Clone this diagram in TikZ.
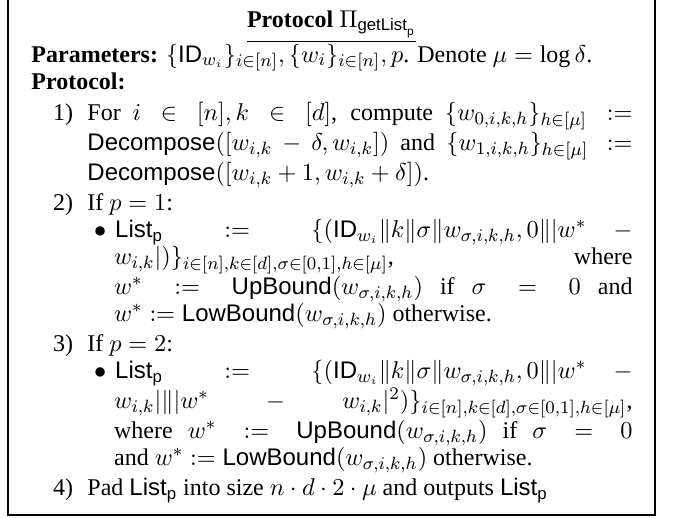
\documentclass[tikz,border=0pt]{standalone}
\usepackage{fontspec}
\setmainfont{Liberation Serif}
\setsansfont{Liberation Sans}
\newenvironment{numlist}{\begin{list}{}{%
  \setlength\leftmargin{25.2pt}\setlength\labelsep{6.5pt}\setlength\labelwidth{18.7pt}%
  \setlength\topsep{2pt}\setlength\itemsep{1.5pt}\setlength\parsep{0pt}%
  \setlength\partopsep{0pt}\setlength\itemindent{0pt}}}{\end{list}}
\newenvironment{bullist}{\begin{list}{$\bullet$}{%
  \setlength\leftmargin{12pt}\setlength\labelsep{4pt}\setlength\labelwidth{5pt}%
  \setlength\topsep{0pt}\setlength\itemsep{0pt}\setlength\parsep{0pt}%
  \setlength\partopsep{0pt}\setlength\itemindent{0pt}}}{\end{list}}
\newcommand{\sfm}[1]{\mathsf{#1}}
\begin{document}
\begin{tikzpicture}[x=0.45pt,y=-0.45pt,
  frame/.style={line width=0.9pt},
  txt/.style={inner sep=0pt, font=\fontsize{10.8}{12.15}\selectfont}]
\useasboundingbox (0,0) rectangle (673,518);
\draw[frame] (8,-5) -- (8,515) -- (655,515) -- (655,-5);
\node[txt, anchor=base] (title) at (331.5,27)
  {\underline{\textbf{Protocol} $\Pi_{\sfm{getList}_{\sfm{p}}}$}};
\node[txt, anchor=base west] (body) at (31,62) {\begin{minipage}[t]{270.5pt}
\fontsize{10.8}{12.15}\selectfont
\textbf{Parameters:} $\{\sfm{ID}_{w_i}\}_{i\in[n]}, \{w_i\}_{i\in[n]}, p$. Denote $\mu=\log\delta$.\\
\textbf{Protocol:}
\begin{numlist}
\item[1)] For $i\in[n], k\in[d]$, compute $\{w_{0,i,k,h}\}_{h\in[\mu]} :=$\linebreak
$\sfm{Decompose}([w_{i,k}-\delta, w_{i,k}])$ and $\{w_{1,i,k,h}\}_{h\in[\mu]} :=$\linebreak
$\sfm{Decompose}([w_{i,k}+1, w_{i,k}+\delta])$.
\item[2)] If $p=1$:
\begin{bullist}
\item $\sfm{List}_{\sfm{p}} := \{(\sfm{ID}_{w_i}\|k\|\sigma\|w_{\sigma,i,k,h},0\||w^*-\penalty-10000 w_{i,k}|)\}_{i\in[n],k\in[d],\sigma\in[0,1],h\in[\mu]}$, where\linebreak
$w^* := \sfm{UpBound}(w_{\sigma,i,k,h})$ if $\sigma=0$ and\linebreak
$w^*:=\sfm{LowBound}(w_{\sigma,i,k,h})$ otherwise.
\end{bullist}
\item[3)] If $p=2$:
\begin{bullist}
\item $\sfm{List}_{\sfm{p}} := \{(\sfm{ID}_{w_i}\|k\|\sigma\|w_{\sigma,i,k,h},0\||w^*-\penalty-10000 w_{i,k}|\||w^*-w_{i,k}|^2)\}_{i\in[n],k\in[d],\sigma\in[0,1],h\in[\mu]}$,\linebreak
where $w^* := \sfm{UpBound}(w_{\sigma,i,k,h})$ if $\sigma=0$\linebreak
and $w^*:=\sfm{LowBound}(w_{\sigma,i,k,h})$ otherwise.
\end{bullist}
\item[4)] Pad $\sfm{List}_{\sfm{p}}$ into size $n\cdot d\cdot 2\cdot\mu$ and outputs $\sfm{List}_{\sfm{p}}$
\end{numlist}
\end{minipage}};
\end{tikzpicture}
\end{document}
